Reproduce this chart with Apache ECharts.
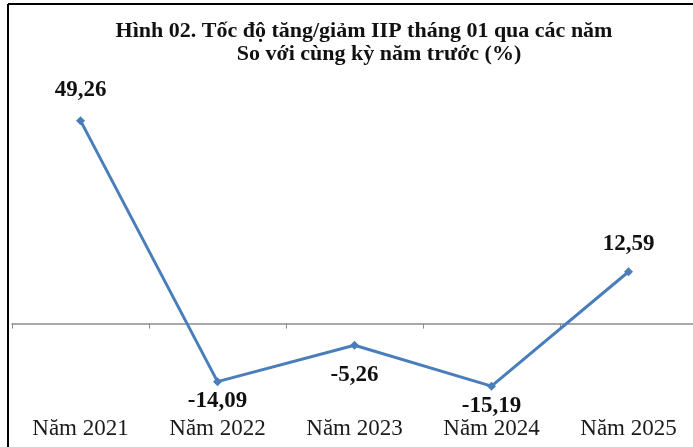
<!DOCTYPE html>
<html>
<head>
<meta charset="utf-8">
<script src="https://cdn.jsdelivr.net/npm/echarts@6/dist/echarts.min.js"></script>
<style>
  html, body { margin: 0; padding: 0; background: #fff; }
  #chart { width: 693px; height: 447px; }
</style>
</head>
<body>
<div id="chart"></div>
<script>
// Yearly January IIP growth versus the same period of the previous year (%)
const years = ['Năm 2021', 'Năm 2022', 'Năm 2023', 'Năm 2024', 'Năm 2025'];
const growth = [49.26, -14.09, -5.26, -15.19, 12.59];
const titleMain = 'Hình 02. Tốc độ tăng/giảm IIP tháng 01 qua các năm';
const titleSub = 'So với cùng kỳ năm trước (%)';

const serif = '"Liberation Serif", "Times New Roman", serif';
const fmt = v => v.toFixed(2).replace('.', ',');

// per-point label offsets from the marker
const labelGap = [15, 3, 14, 4, 12];

const titleStyle = {
  fontFamily: serif,
  fontWeight: 'bold',
  fontSize: 22,
  color: '#111'
};

const chart = echarts.init(document.getElementById('chart'), null, { renderer: 'canvas' });
chart.setOption({
  backgroundColor: '#fff',
  animation: false,
  title: [
    { text: titleMain, left: 359, top: 15, textAlign: 'center', textStyle: titleStyle },
    { text: titleSub, left: 374, top: 38, textAlign: 'center', textStyle: titleStyle }
  ],
  graphic: [
    { type: 'line', shape: { x1: 8, y1: 4, x2: 693, y2: 4 }, style: { stroke: '#000', lineWidth: 2 } },
    { type: 'line', shape: { x1: 8, y1: 4, x2: 8, y2: 447 }, style: { stroke: '#000', lineWidth: 2 } }
  ],
  grid: { left: 12, right: -4, top: 97, height: 309, containLabel: false, outerBoundsMode: 'none' },
  xAxis: [
    {
      // baseline through zero, no labels
      type: 'category',
      data: years,
      boundaryGap: true,
      axisLine: { onZero: true, lineStyle: { color: '#8c8c8c', width: 1.5 } },
      axisTick: { show: true, length: 5, lineStyle: { color: '#8c8c8c' } },
      axisLabel: { show: false }
    },
    {
      // year labels along the bottom edge
      type: 'category',
      data: years,
      position: 'bottom',
      boundaryGap: true,
      axisLine: { show: false, onZero: false },
      axisTick: { show: false },
      axisLabel: {
        margin: 11,
        fontFamily: serif,
        fontSize: 23,
        color: '#1a1a1a',
        interval: 0
      }
    }
  ],
  yAxis: {
    type: 'value',
    min: -20,
    max: 55,
    show: false,
    splitLine: { show: false }
  },
  series: [{
    type: 'line',
    xAxisIndex: 0,
    symbol: 'diamond',
    symbolSize: 9,
    lineStyle: { color: '#4a7ebb', width: 3 },
    itemStyle: { color: '#4a7ebb' },
    label: {
      show: true,
      fontFamily: serif,
      fontWeight: 'bold',
      fontSize: 23,
      color: '#111',
      formatter: p => fmt(p.value)
    },
    data: growth.map((v, i) => ({
      value: v,
      label: { position: v >= 0 ? 'top' : 'bottom', distance: labelGap[i] }
    }))
  }]
});
</script>
</body>
</html>
